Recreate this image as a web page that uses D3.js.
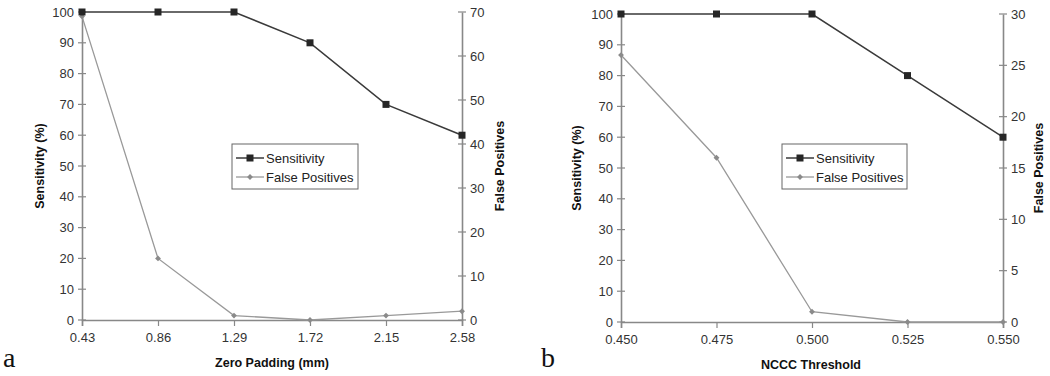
<!DOCTYPE html>
<html><head><meta charset="utf-8">
<script src="https://cdn.jsdelivr.net/npm/d3@7"></script>
<style>body{margin:0;background:#fff}svg{display:block}</style>
</head><body>
<svg id="c" width="1050" height="376"></svg>
<script>
const catsA = ["0.43","0.86","1.29","1.72","2.15","2.58"];
const sensA = [100,100,100,90,70,60];
const fpA = [69,14,1,0,1,2];
const catsB = ["0.450","0.475","0.500","0.525","0.550"];
const sensB = [100,100,100,80,60];
const fpB = [26,16,1,0,0];
const leftTicks = [0,10,20,30,40,50,60,70,80,90,100];
const rightTicksA = [0,10,20,30,40,50,60,70];
const rightTicksB = [0,5,10,15,20,25,30];

const svg = d3.select("#c");
const font = "Arial, 'Liberation Sans', sans-serif";

function panel(o){
  const g = svg.append("g");
  const x = d3.scalePoint().domain(o.cats).range([o.x0,o.x1]);
  const yL = d3.scaleLinear().domain([0,100]).range([o.y0,o.y1]);
  const yR = d3.scaleLinear().domain([0,o.rmax]).range([o.y0,o.y1]);
  const axCol = "#888";
  const la = g.append("g").attr("transform",`translate(${o.x0},0)`).call(d3.axisLeft(yL).tickValues(leftTicks).tickSize(0).tickPadding(8));
  const ra = g.append("g").attr("transform",`translate(${o.x1},0)`).call(d3.axisRight(yR).tickValues(o.rticks).tickSize(0).tickPadding(8));
  const ba = g.append("g").attr("transform",`translate(0,${o.y0})`).call(d3.axisBottom(x).tickSize(6).tickPadding(7));
  [la,ra,ba].forEach(a=>{
    a.select(".domain").attr("stroke",axCol).attr("stroke-width",1.6);
    a.selectAll("text").attr("font-family",font).attr("font-size",13).attr("fill","#333");
    a.selectAll("line").attr("stroke",axCol).attr("stroke-width",1.2);
  });
  g.selectAll(".lt").data(leftTicks).join("line").attr("x1",o.x0-4).attr("x2",o.x0+4)
    .attr("y1",d=>yL(d)).attr("y2",d=>yL(d)).attr("stroke",axCol).attr("stroke-width",1.2);
  g.selectAll(".rt").data(o.rticks).join("line").attr("x1",o.x1-4).attr("x2",o.x1+4)
    .attr("y1",d=>yR(d)).attr("y2",d=>yR(d)).attr("stroke",axCol).attr("stroke-width",1.2);
  const idx = o.cats.map((c,i)=>i);
  g.append("path").datum(idx).attr("fill","none").attr("stroke","#999").attr("stroke-width",1.3)
    .attr("d",d3.line().x(i=>x(o.cats[i])).y(i=>yR(o.fp[i])));
  g.append("path").datum(idx).attr("fill","none").attr("stroke","#3a3a3a").attr("stroke-width",1.5)
    .attr("d",d3.line().x(i=>x(o.cats[i])).y(i=>yL(o.sens[i])));
  g.selectAll(".fpm").data(idx).join("path")
    .attr("transform",i=>`translate(${x(o.cats[i])},${yR(o.fp[i])})`)
    .attr("d",d3.symbol(d3.symbolDiamond2,22)).attr("fill","#8a8a8a");
  g.selectAll(".sm").data(idx).join("rect")
    .attr("x",i=>x(o.cats[i])-3.5).attr("y",i=>yL(o.sens[i])-3.5).attr("width",7).attr("height",7).attr("fill","#262626");
  g.append("text").attr("transform",`translate(${o.ltx},${(o.y0+o.y1)/2}) rotate(-90)`).attr("text-anchor","middle")
    .attr("dy","0.35em").attr("font-family",font).attr("font-weight","bold").attr("font-size",12.5).attr("fill","#111").text("Sensitivity (%)");
  g.append("text").attr("transform",`translate(${o.rtx},${(o.y0+o.y1)/2}) rotate(-90)`).attr("text-anchor","middle")
    .attr("dy","0.35em").attr("font-family",font).attr("font-weight","bold").attr("font-size",12.5).attr("fill","#111").text("False Positives");
  g.append("text").attr("x",o.xtx).attr("y",o.xty).attr("text-anchor","middle").attr("font-family",font)
    .attr("font-weight","bold").attr("font-size",12.5).attr("fill","#111").text(o.xtitle);
  g.append("text").attr("x",o.lab[0]).attr("y",o.lab[1]).attr("font-family","'Liberation Serif', 'DejaVu Serif', serif")
    .attr("font-size",28).attr("fill","#111").text(o.label);
  const lg = g.append("g").attr("transform",`translate(${o.leg[0]},${o.leg[1]})`);
  lg.append("rect").attr("width",o.leg[2]).attr("height",45).attr("fill","#fff").attr("stroke","#666").attr("stroke-width",1);
  lg.append("line").attr("x1",4).attr("x2",32).attr("y1",14).attr("y2",14).attr("stroke","#3a3a3a").attr("stroke-width",1.5);
  lg.append("rect").attr("x",14.5).attr("y",10.5).attr("width",7).attr("height",7).attr("fill","#262626");
  lg.append("line").attr("x1",4).attr("x2",32).attr("y1",33).attr("y2",33).attr("stroke","#999").attr("stroke-width",1.3);
  lg.append("path").attr("transform","translate(18,33)").attr("d",d3.symbol(d3.symbolDiamond2,22)).attr("fill","#8a8a8a");
  lg.append("text").attr("x",34).attr("y",14).attr("dy","0.35em").attr("font-family",font).attr("font-size",13).attr("fill","#222").text("Sensitivity");
  lg.append("text").attr("x",34).attr("y",33).attr("dy","0.35em").attr("font-family",font).attr("font-size",13).attr("fill","#222").text("False Positives");
}

panel({cats:catsA,sens:sensA,fp:fpA,rmax:70,rticks:rightTicksA,x0:82,x1:462,y0:320,y1:12,
  ltx:40,rtx:500,xtx:272,xty:367,xtitle:"Zero Padding (mm)",label:"a",lab:[3,367],leg:[232,144,126]});
panel({cats:catsB,sens:sensB,fp:fpB,rmax:30,rticks:rightTicksB,x0:621,x1:1003,y0:322,y1:14,
  ltx:577,rtx:1039,xtx:811,xty:369,xtitle:"NCCC Threshold",label:"b",lab:[541,367],leg:[782,144,125]});
</script>
</body></html>
